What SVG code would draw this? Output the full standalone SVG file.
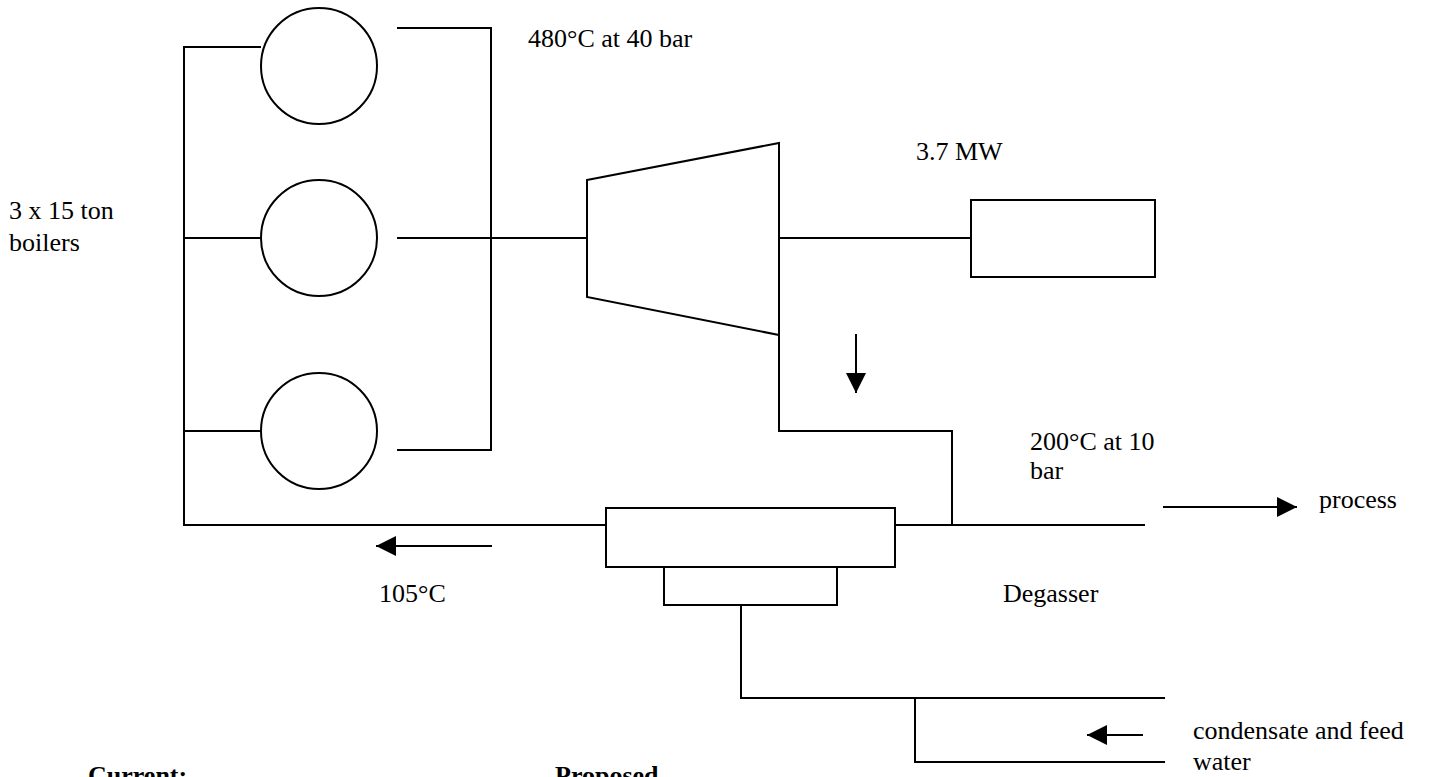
<svg xmlns="http://www.w3.org/2000/svg" width="1447" height="777" viewBox="0 0 1447 777">
<style>
  .ln { fill: none; stroke: #000; stroke-width: 2; }
  .sh { fill: #fff; stroke: #000; stroke-width: 2; }
  .t { font-family: "Liberation Serif", "Times New Roman", serif; font-size: 26px; fill: #000; }
  .b { font-weight: bold; }
</style>
<defs>
  <marker id="ah" markerUnits="userSpaceOnUse" markerWidth="22" markerHeight="22" refX="20" refY="10" orient="auto">
    <path d="M0,0 L20,10 L0,20 Z" fill="#000"/>
  </marker>
</defs>
<rect width="1447" height="777" fill="#fff"/>

<g id="connectors">
  <polyline class="ln" points="261,47 184,47 184,525 606,525"/>
  <line class="ln" x1="184" y1="238" x2="261" y2="238"/>
  <line class="ln" x1="184" y1="431" x2="261" y2="431"/>
  <polyline class="ln" points="397,28 491,28 491,450 397,450"/>
  <line class="ln" x1="397" y1="238" x2="587" y2="238"/>
  <line class="ln" x1="779" y1="238" x2="971" y2="238"/>
  <polyline class="ln" points="779,335 779,431 952,431 952,525"/>
  <line class="ln" x1="895" y1="525" x2="1145" y2="525"/>
  <polyline class="ln" points="741,605 741,698 1165,698"/>
  <polyline class="ln" points="915,698 915,762 1165,762"/>
  <line class="ln" x1="856" y1="334" x2="856" y2="393" marker-end="url(#ah)"/>
  <line class="ln" x1="1163" y1="507" x2="1297" y2="507" marker-end="url(#ah)"/>
  <line class="ln" x1="492" y1="546" x2="376" y2="546" marker-end="url(#ah)"/>
  <line class="ln" x1="1143" y1="735" x2="1087" y2="735" marker-end="url(#ah)"/>
</g>

<g id="boiler1"><circle class="sh" cx="319" cy="66" r="58"/></g>
<g id="boiler2"><circle class="sh" cx="319" cy="238" r="58"/></g>
<g id="boiler3"><circle class="sh" cx="319" cy="431" r="58"/></g>
<g id="turbine"><polygon class="sh" points="587,180 779,143 779,335 587,297"/></g>
<g id="generator"><rect class="sh" x="971" y="200" width="184" height="77"/></g>
<g id="degasser">
  <rect class="sh" x="606" y="508" width="289" height="59"/>
  <rect class="sh" x="664" y="567" width="173" height="38"/>
</g>

<g id="labels">
  <text class="t" x="528" y="47">480°C at 40 bar</text>
  <text class="t" x="9" y="219">3 x 15 ton</text>
  <text class="t" x="9" y="251">boilers</text>
  <text class="t" x="916" y="160">3.7 MW</text>
  <text class="t" x="1030" y="450">200°C at 10</text>
  <text class="t" x="1030" y="479">bar</text>
  <text class="t" x="1319" y="508">process</text>
  <text class="t" x="379" y="602">105°C</text>
  <text class="t" x="1003" y="602">Degasser</text>
  <text class="t" x="1193" y="739">condensate and feed</text>
  <text class="t" x="1193" y="770">water</text>
  <text class="t b" x="88" y="784">Current:</text>
  <text class="t b" x="555" y="784">Proposed</text>
</g>
</svg>
